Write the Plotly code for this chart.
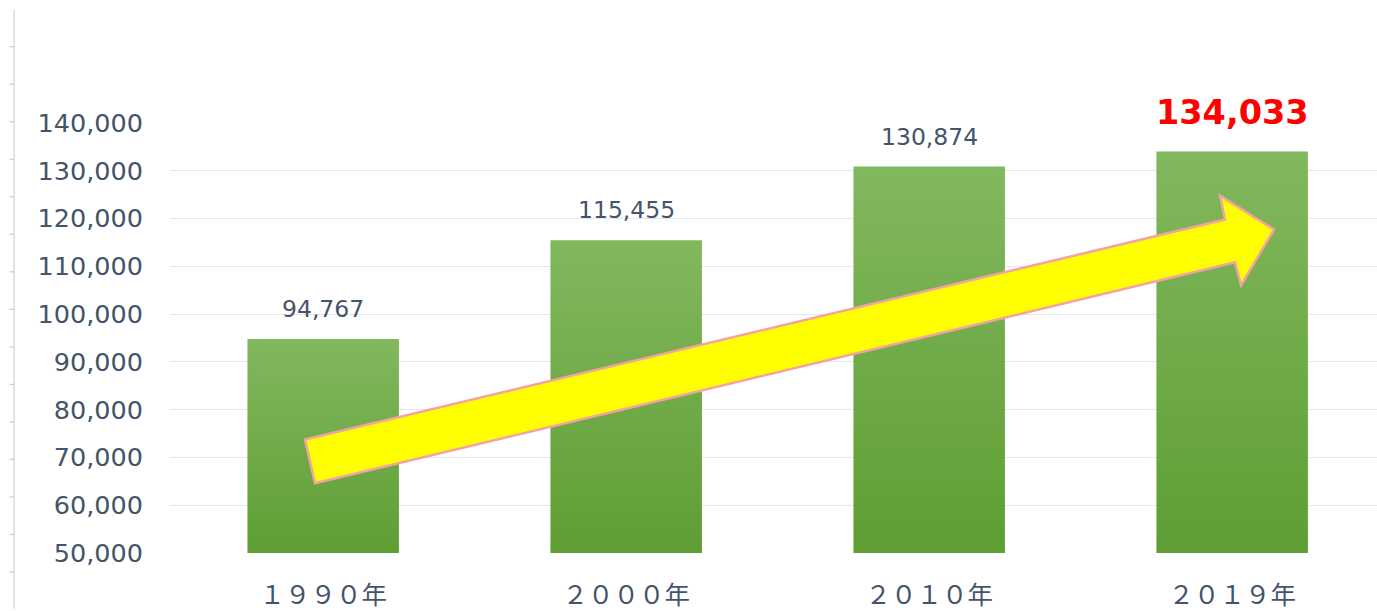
import plotly.graph_objects as go

# ---------------- data ----------------
categories = ["１９９０年", "２０００年", "２０１０年", "２０１９年"]
values = [94767, 115455, 130874, 134033]
value_labels = ["94,767", "115,455", "130,874", "134,033"]
y_ticks = [50000, 60000, 70000, 80000, 90000, 100000, 110000, 120000, 130000, 140000]
y_tick_labels = ["50,000", "60,000", "70,000", "80,000", "90,000", "100,000",
                 "110,000", "120,000", "130,000", "140,000"]
highlight_index = 3

# ---------------- style ----------------
W, H = 1377, 611
L, R, T, B = 170, 0, 123, 56
Y_MIN, Y_MAX = 50000, 140000
X_RANGE = [-0.5056, 3.478]
BAR_HALF = 0.25
TOP_GREEN = "#82b85e"
BOTTOM_GREEN = "#5e9e33"
TEXT_COLOR = "#44546a"
GRID_COLOR = "#e3e6ea"

fig = go.Figure()

xs = list(range(len(categories)))
for i, v in zip(xs, values):
    fig.add_trace(go.Scatter(
        x=[i - BAR_HALF, i + BAR_HALF, i + BAR_HALF, i - BAR_HALF, i - BAR_HALF],
        y=[Y_MIN, Y_MIN, v, v, Y_MIN],
        mode="lines",
        line=dict(width=0, color=TOP_GREEN),
        fill="toself",
        fillgradient=dict(type="vertical",
                          colorscale=[[0, BOTTOM_GREEN], [1, TOP_GREEN]]),
        hoverinfo="skip",
        showlegend=False,
    ))

# data labels
for i, (v, lab) in enumerate(zip(values, value_labels)):
    hl = i == highlight_index
    fig.add_annotation(
        x=xs[i], y=v, text=lab,
        xref="x", yref="y", showarrow=False, yanchor="bottom",
        yshift=18 if hl else 14,
        font=dict(family="DejaVu Sans", size=33.5 if hl else 23.5,
                  weight=700 if hl else 400,
                  color="#ff0000" if hl else TEXT_COLOR),
    )

# ---------------- decorative shapes (pixel -> paper) ----------------
pw, ph = W - L - R, H - T - B


def px(xp):
    return (xp - L) / pw


def py(yp):
    return (H - B - yp) / ph


arrow_px = [(305, 441), (1225, 220), (1220, 196), (1274, 230),
            (1241, 286), (1235, 263), (315, 485)]
path = "M " + " L ".join(f"{px(a):.5f},{py(b):.5f}" for a, b in arrow_px) + " Z"
fig.add_shape(type="path", path=path, xref="paper", yref="paper",
              fillcolor="#ffff00", line=dict(color="#f4a2a2", width=2.5),
              layer="above")

# left sheet border line with tick marks
fig.add_shape(type="line", xref="paper", yref="paper",
              x0=px(14), x1=px(14), y0=py(9), y1=py(611),
              line=dict(color="#d6dae0", width=1.5))
yk = 121.7 - 2 * 37.7
while yk < 611:
    fig.add_shape(type="line", xref="paper", yref="paper",
                  x0=px(9.5), x1=px(14), y0=py(yk), y1=py(yk),
                  line=dict(color="#c8cdd4", width=1.2))
    yk += 37.7

fig.update_layout(
    width=W, height=H,
    margin=dict(l=L, r=R, t=T, b=B, pad=0),
    paper_bgcolor="white", plot_bgcolor="white",
    showlegend=False,
)
fig.update_xaxes(
    range=X_RANGE, tickmode="array", tickvals=xs, ticktext=categories,
    showgrid=False, zeroline=False, showline=False, ticks="",
    tickfont=dict(family="Noto Sans CJK JP", size=25.5, color=TEXT_COLOR),
    ticklabelstandoff=24,
)
fig.update_yaxes(
    range=[Y_MIN, Y_MAX], tickmode="array", tickvals=y_ticks, ticktext=y_tick_labels,
    showgrid=True, gridcolor=GRID_COLOR, gridwidth=1.2, zeroline=False,
    showline=False, ticks="",
    tickfont=dict(family="DejaVu Sans", size=25.5, color=TEXT_COLOR),
    ticklabelstandoff=26,
)

fig.write_html(
    "out.html",
    config={"displayModeBar": False},
    post_script="document.body.style.margin='0';document.body.style.overflow='hidden';",
)
